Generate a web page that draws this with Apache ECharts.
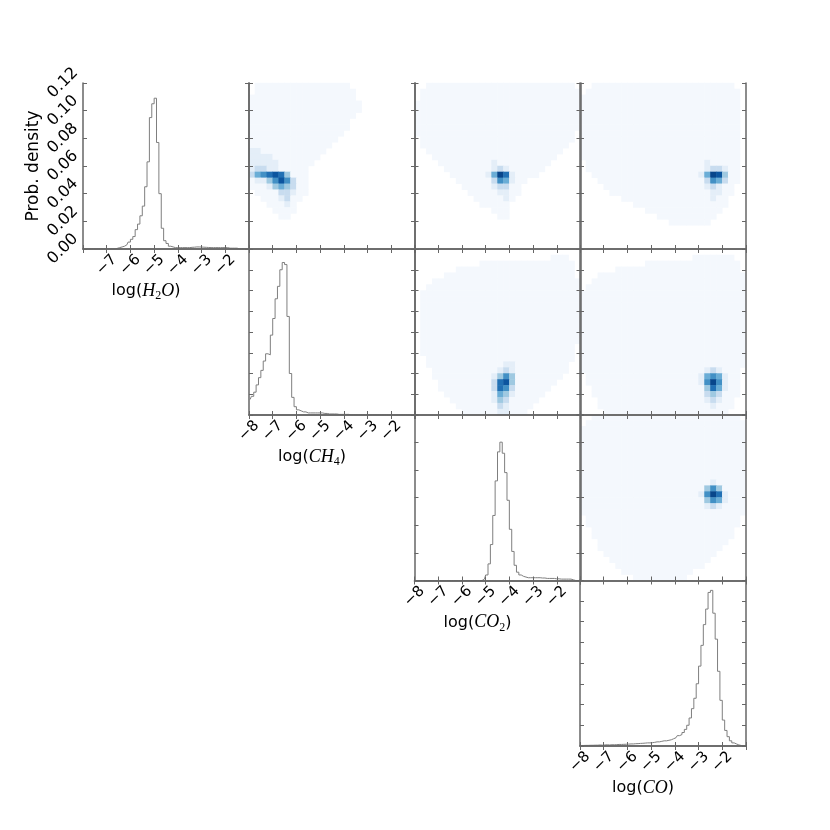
<!DOCTYPE html>
<html>
<head>
<meta charset="utf-8">
<script src="https://cdn.jsdelivr.net/npm/echarts@6/dist/echarts.min.js"></script>
<style>
  html, body { margin: 0; background: #fff; }
  #chart { width: 830px; height: 830px; }
</style>
</head>
<body>
<div id="chart"></div>
<script>
// axis variables (formula letters, subscript, rest)
const species = [['H', '2', 'O'], ['CH', '4', ''], ['CO', '2', ''], ['CO', '', '']];

// histogram bins: width 0.1 from -8 to -1, values are probability density
const histH2O = [
  0, 0, 0, 0, 0, 0, 0, 0, 0, 0, 0, 0, 0, 0,
  0.0005, 0.001, 0.0015, 0.002, 0.003, 0.005, 0.007, 0.009, 0.014, 0.018,
  0.024, 0.031, 0.045, 0.063, 0.095, 0.105, 0.109, 0.077, 0.040, 0.015,
  0.006, 0.004, 0.002, 0.0015, 0.001, 0.001, 0.001, 0.001, 0.001, 0.001,
  0.001, 0.0012, 0.0013, 0.0015, 0.0015, 0.0014, 0.0013, 0.0012, 0.0011, 0.001,
  0.001, 0.001, 0.001, 0.001, 0.001, 0.001, 0.001, 0.0006, 0.0006, 0.0006,
  0.0006, 0, 0, 0, 0, 0
];
const histCH4 = [
  0.015, 0.018, 0.022, 0.029, 0.036, 0.043, 0.052, 0.059, 0.058, 0.077,
  0.093, 0.112, 0.124, 0.140, 0.147, 0.145, 0.095, 0.040, 0.017, 0.008,
  0.005, 0.004, 0.003, 0.003, 0.002, 0.002, 0.002, 0.002, 0.002, 0.002,
  0.002, 0.0015, 0.0015, 0.001, 0.001, 0.001, 0.001, 0.0006, 0.0006, 0.0006,
  0.0006, 0.0006, 0, 0, 0, 0, 0, 0, 0, 0,
  0, 0, 0, 0, 0, 0, 0, 0, 0, 0,
  0, 0, 0, 0, 0, 0, 0, 0, 0, 0
];
const histCO2 = [
  0, 0, 0, 0, 0, 0, 0, 0, 0, 0,
  0, 0, 0, 0, 0, 0, 0, 0, 0, 0,
  0, 0, 0, 0, 0, 0, 0, 0, 0, 0.001,
  0.004, 0.012, 0.026, 0.047, 0.072, 0.093, 0.100, 0.092, 0.078, 0.058,
  0.037, 0.021, 0.011, 0.006, 0.004, 0.003, 0.0025, 0.002, 0.002, 0.002,
  0.002, 0.002, 0.002, 0.0018, 0.0018, 0.0015, 0.0015, 0.0015, 0.0015, 0.0012,
  0.0012, 0.001, 0.001, 0.001, 0.001, 0.001, 0.0005, 0, 0, 0
];
const histCO = [
  0.0005, 0.0005, 0.0006, 0.0006, 0.0007, 0.0007, 0.0008, 0.0008, 0.001, 0.0008,
  0.001, 0.0012, 0.001, 0.0012, 0.0012, 0.0013, 0.0015, 0.0015, 0.0016, 0.0017,
  0.0018, 0.002, 0.002, 0.0022, 0.0023, 0.0025, 0.0026, 0.0028, 0.003, 0.003,
  0.0032, 0.0035, 0.004, 0.004, 0.0045, 0.005, 0.005, 0.0055, 0.006, 0.007,
  0.008, 0.010, 0.011, 0.013, 0.016, 0.020, 0.027, 0.036, 0.046, 0.060,
  0.077, 0.097, 0.117, 0.132, 0.148, 0.150, 0.128, 0.103, 0.072, 0.044,
  0.025, 0.015, 0.009, 0.005, 0.003, 0.002, 0.001, 0.0005, 0.0002, 0
];
const hists = [histH2O, histCH4, histCO2, histCO];

// 2D density, 28x28 cells of 0.25 dex, rows from top (y=-1) to bottom (y=-8),
// digits are colour levels 0 (empty) .. 9 (densest); spaces only for reading
const densH2O_CH4 = [
  '0111 1111 1111 1111 1000 0000 0000',
  '0111 1111 1111 1111 1100 0000 0000',
  '1111 1111 1111 1111 1100 0000 0000',
  '1111 1111 1111 1111 1110 0000 0000',
  '1111 1111 1111 1111 1110 0000 0000',
  '1111 1111 1111 1111 1100 0000 0000',
  '1111 1111 1111 1111 1000 0000 0000',
  '1111 1111 1111 1111 1000 0000 0000',
  '1111 1111 1111 1111 0000 0000 0000',
  '1111 1111 1111 1110 0000 0000 0000',
  '1111 1111 1111 1100 0000 0000 0000',
  '2211 1111 1111 1000 0000 0000 0000',
  '2222 1111 1111 0000 0000 0000 0000',
  '2222 2111 1110 0000 0000 0000 0000',
  '2332 2111 1100 0000 0000 0000 0000',
  '3567 8741 1100 0000 0000 0000 0000',
  '1224 6863 1100 0000 0000 0000 0000',
  '1112 4543 1100 0000 0000 0000 0000',
  '0111 1332 1100 0000 0000 0000 0000',
  '0011 1231 1000 0000 0000 0000 0000',
  '0001 1121 0000 0000 0000 0000 0000',
  '0000 1111 0000 0000 0000 0000 0000',
  '0000 0110 0000 0000 0000 0000 0000',
  '0000 0000 0000 0000 0000 0000 0000',
  '0000 0000 0000 0000 0000 0000 0000',
  '0000 0000 0000 0000 0000 0000 0000',
  '0000 0000 0000 0000 0000 0000 0000',
  '0000 0000 0000 0000 0000 0000 0000'
];
const densH2O_CO2 = [
  '0011 1111 1111 1111 1111 1111 1110',
  '0111 1111 1111 1111 1111 1111 1111',
  '0111 1111 1111 1111 1111 1111 1111',
  '1111 1111 1111 1111 1111 1111 1111',
  '1111 1111 1111 1111 1111 1111 1111',
  '1111 1111 1111 1111 1111 1111 1111',
  '1111 1111 1111 1111 1111 1111 1111',
  '1111 1111 1111 1111 1111 1111 1111',
  '1111 1111 1111 1111 1111 1111 1110',
  '0111 1111 1111 1111 1111 1111 1110',
  '0111 1111 1111 1111 1111 1111 1100',
  '0011 1111 1111 1111 1111 1111 1000',
  '0001 1111 1111 1111 1111 1111 0000',
  '0000 1111 1111 1211 1111 1110 0000',
  '0000 0111 1111 1232 1111 1100 0000',
  '0000 0011 1111 2597 2111 1000 0000',
  '0000 0001 1111 1365 2110 0000 0000',
  '0000 0000 1111 1233 1100 0000 0000',
  '0000 0000 0111 1122 1100 0000 0000',
  '0000 0000 0011 1112 1000 0000 0000',
  '0000 0000 0001 1111 0000 0000 0000',
  '0000 0000 0000 0111 0000 0000 0000',
  '0000 0000 0000 0011 0000 0000 0000',
  '0000 0000 0000 0000 0000 0000 0000',
  '0000 0000 0000 0000 0000 0000 0000',
  '0000 0000 0000 0000 0000 0000 0000',
  '0000 0000 0000 0000 0000 0000 0000',
  '0000 0000 0000 0000 0000 0000 0000'
];
const densH2O_CO = [
  '0011 1111 1111 1111 1111 1111 1100',
  '0111 1111 1111 1111 1111 1111 1110',
  '1111 1111 1111 1111 1111 1111 1110',
  '1111 1111 1111 1111 1111 1111 1110',
  '1111 1111 1111 1111 1111 1111 1110',
  '1111 1111 1111 1111 1111 1111 1110',
  '1111 1111 1111 1111 1111 1111 1110',
  '1111 1111 1111 1111 1111 1111 1110',
  '1111 1111 1111 1111 1111 1111 1110',
  '1111 1111 1111 1111 1111 1111 1110',
  '1111 1111 1111 1111 1111 1111 1110',
  '1111 1111 1111 1111 1111 1111 1110',
  '1111 1111 1111 1111 1111 1111 1110',
  '0111 1111 1111 1111 1111 1211 1110',
  '0111 1111 1111 1111 1111 1233 2110',
  '0011 1111 1111 1111 1111 2598 4110',
  '0001 1111 1111 1111 1111 1365 3110',
  '0000 1111 1111 1111 1111 1232 1100',
  '0000 0111 1111 1111 1111 1122 1100',
  '0000 0001 1111 1111 1111 1121 1000',
  '0000 0000 0111 1111 1111 1111 1000',
  '0000 0000 0001 1111 1111 1111 0000',
  '0000 0000 0000 0111 1111 1110 0000',
  '0000 0000 0000 0001 1111 1100 0000',
  '0000 0000 0000 0000 0000 0000 0000',
  '0000 0000 0000 0000 0000 0000 0000',
  '0000 0000 0000 0000 0000 0000 0000',
  '0000 0000 0000 0000 0000 0000 0000'
];
const densCH4_CO2 = [
  '0000 0000 0000 0000 0000 0000 0000',
  '0000 0000 0000 0000 0000 0001 1100',
  '0000 0000 0001 1111 1111 1111 1110',
  '0000 0001 1111 1111 1111 1111 1110',
  '0000 0111 1111 1111 1111 1111 1110',
  '0001 1111 1111 1111 1111 1111 1111',
  '0011 1111 1111 1111 1111 1111 1111',
  '0111 1111 1111 1111 1111 1111 1111',
  '0111 1111 1111 1111 1111 1111 1111',
  '0111 1111 1111 1111 1111 1111 1111',
  '0111 1111 1111 1111 1111 1111 1111',
  '0111 1111 1111 1111 1111 1111 1111',
  '0111 1111 1111 1111 1111 1111 1111',
  '0111 1111 1111 1111 1111 1111 1111',
  '0111 1111 1111 1111 1111 1111 1111',
  '0111 1111 1111 1111 1111 1111 1111',
  '0111 1111 1111 1111 1111 1111 1110',
  '0111 1111 1111 1111 1111 1111 1110',
  '0011 1111 1111 1111 1111 1111 1110',
  '0011 1111 1111 1112 2111 1111 1100',
  '0001 1111 1111 1123 2111 1111 1100',
  '0001 1111 1111 1246 4111 1111 1000',
  '0000 1111 1111 1378 4111 1111 0000',
  '0000 1111 1111 1376 3111 1110 0000',
  '0000 0111 1111 1254 2111 1100 0000',
  '0000 0011 1111 1243 1111 1000 0000',
  '0000 0001 1111 1132 1111 0000 0000',
  '0000 0000 1111 1122 1110 0000 0000'
];
const densCH4_CO = [
  '0000 0000 0000 0000 0000 0000 0000',
  '0000 0000 0000 0000 0001 1111 1100',
  '0000 0000 0001 1111 1111 1111 1110',
  '0000 0011 1111 1111 1111 1111 1110',
  '0001 1111 1111 1111 1111 1111 1111',
  '0011 1111 1111 1111 1111 1111 1111',
  '0111 1111 1111 1111 1111 1111 1111',
  '1111 1111 1111 1111 1111 1111 1111',
  '1111 1111 1111 1111 1111 1111 1111',
  '1111 1111 1111 1111 1111 1111 1111',
  '1111 1111 1111 1111 1111 1111 1111',
  '1111 1111 1111 1111 1111 1111 1111',
  '1111 1111 1111 1111 1111 1111 1111',
  '1111 1111 1111 1111 1111 1111 1111',
  '1111 1111 1111 1111 1111 1111 1111',
  '1111 1111 1111 1111 1111 1111 1111',
  '1111 1111 1111 1111 1111 1111 1111',
  '1111 1111 1111 1111 1111 1111 1111',
  '1111 1111 1111 1111 1111 1111 1111',
  '1111 1111 1111 1111 1111 1111 1111',
  '1111 1111 1111 1111 1111 1232 1110',
  '0111 1111 1111 1111 1111 2565 2110',
  '0111 1111 1111 1111 1111 2696 2110',
  '0011 1111 1111 1111 1111 1475 2110',
  '0011 1111 1111 1111 1111 1343 1110',
  '0001 1111 1111 1111 1111 1232 1100',
  '0001 1111 1111 1111 1111 1121 1100',
  '0000 1111 1111 1111 1111 1111 1000'
];
const densCO2_CO = [
  '0011 1111 1111 1111 1111 1111 1110',
  '0111 1111 1111 1111 1111 1111 1111',
  '1111 1111 1111 1111 1111 1111 1111',
  '1111 1111 1111 1111 1111 1111 1111',
  '1111 1111 1111 1111 1111 1111 1111',
  '1111 1111 1111 1111 1111 1111 1111',
  '1111 1111 1111 1111 1111 1111 1111',
  '1111 1111 1111 1111 1111 1111 1111',
  '1111 1111 1111 1111 1111 1111 1111',
  '1111 1111 1111 1111 1111 1111 1111',
  '1111 1111 1111 1111 1111 1111 1111',
  '1111 1111 1111 1111 1111 1121 1111',
  '1111 1111 1111 1111 1111 1464 1111',
  '1111 1111 1111 1111 1111 2697 2111',
  '1111 1111 1111 1111 1111 1465 2111',
  '1111 1111 1111 1111 1111 1232 1111',
  '1111 1111 1111 1111 1111 1111 1111',
  '0111 1111 1111 1111 1111 1111 1110',
  '0111 1111 1111 1111 1111 1111 1110',
  '0011 1111 1111 1111 1111 1111 1100',
  '0011 1111 1111 1111 1111 1111 1100',
  '0001 1111 1111 1111 1111 1111 1000',
  '0001 1111 1111 1111 1111 1111 0000',
  '0000 1111 1111 1111 1111 1110 0000',
  '0000 0111 1111 1111 1111 1100 0000',
  '0000 0011 1111 1111 1111 1000 0000',
  '0000 0001 1111 1111 1110 0000 0000',
  '0000 0000 0111 1111 1100 0000 0000'
];
// [row, col, cells]
const densPanels = [
  [0, 1, densH2O_CH4], [0, 2, densH2O_CO2], [0, 3, densH2O_CO],
  [1, 2, densCH4_CO2], [1, 3, densCH4_CO], [2, 3, densCO2_CO]
];

const xTickLabelsFirst = ['', '−7', '−6', '−5', '−4', '−3', '−2', ''];
const xTickLabels = ['−8', '−7', '−6', '−5', '−4', '−3', '−2', ''];
const yTickLabels = ['0.00', '0.02', '0.04', '0.06', '0.08', '0.10', '0.12'];
const rowMax = [0.12, 0.16, 0.12, 0.16];

const blues = ['#f4f8fd', '#e4eef8', '#c8dcef', '#9fc9e1', '#6aadd6', '#4290c5', '#2170b4', '#0c559f', '#08468b'];

const chart = echarts.init(document.getElementById('chart'));

const edges = [83, 249, 414.5, 580];
const size = 166;
const frameColor = '#666';
const font = 'DejaVu Sans';

const grid = [], xAxis = [], yAxis = [], series = [];
const heatSeriesIdx = [];

function nameRich(sp) {
  return '{s|log(}{m|' + sp[0] + '}' + (sp[1] ? '{b|' + sp[1] + '}' : '') +
    (sp[2] ? '{m|' + sp[2] + '}' : '') + '{s|)}';
}

// frame + ticks of one panel, on all four sides
function addFrame(row, col, isDiag) {
  const g = grid.length;
  grid.push({ left: edges[col], top: edges[row], width: size, height: size, outerBoundsMode: 'none' });
  const line = { show: true, lineStyle: { color: frameColor, width: 1.5 } };
  const tick = { show: true, inside: true, length: 4, lineStyle: { color: frameColor } };
  const labels = col === 0 ? xTickLabelsFirst : xTickLabels;
  const sp = species[col];
  xAxis.push({
    gridIndex: g, type: 'value', position: 'bottom', min: -8, max: -1, interval: 1, z: 10,
    axisLine: line, axisTick: tick, splitLine: { show: false },
    axisLabel: {
      show: isDiag, rotate: 45, margin: 16, align: 'center', verticalAlign: 'middle',
      fontFamily: font, fontSize: 15, color: '#000',
      showMinLabel: true, showMaxLabel: true,
      formatter: v => labels[Math.round(v) + 8]
    },
    name: isDiag ? nameRich(sp) : '', nameLocation: 'middle', nameGap: 31,
    nameTextStyle: {
      padding: [0, 40, 0, 0],
      rich: {
        s: { fontFamily: font, fontSize: 16, color: '#000', lineHeight: 22, verticalAlign: 'middle' },
        m: { fontFamily: 'Liberation Serif', fontStyle: 'italic', fontSize: 18, color: '#000', lineHeight: 22, verticalAlign: 'middle' },
        b: { fontFamily: 'Liberation Serif', fontSize: 12, color: '#000', lineHeight: 12, verticalAlign: 'bottom' }
      }
    }
  });
  xAxis.push({
    gridIndex: g, type: 'value', position: 'top', min: -8, max: -1, interval: 1, z: 10,
    axisLine: line, axisTick: tick, splitLine: { show: false }, axisLabel: { show: false }
  });
  const showY = row === 0 && col === 0;
  yAxis.push({
    gridIndex: g, type: 'value', position: 'left', min: 0, max: rowMax[row], interval: 0.02, z: 10,
    axisLine: line, axisTick: tick, splitLine: { show: false },
    axisLabel: {
      show: showY, rotate: 45, margin: 20, align: 'center', verticalAlign: 'middle',
      fontFamily: font, fontSize: 16, color: '#000',
      showMinLabel: true, showMaxLabel: true,
      formatter: v => yTickLabels[Math.round(v / 0.02)]
    },
    name: showY ? 'Prob. density' : '', nameLocation: 'middle', nameGap: 39, nameRotate: 90,
    nameTextStyle: { fontFamily: font, fontSize: 17, color: '#000' }
  });
  yAxis.push({
    gridIndex: g, type: 'value', position: 'right', min: 0, max: rowMax[row], interval: 0.02, z: 10,
    axisLine: line, axisTick: tick, splitLine: { show: false }, axisLabel: { show: false }
  });
  return { g, xi: xAxis.length - 2, yi: yAxis.length - 2 };
}

const binCenters = histH2O.map((_, i) => -7.95 + 0.1 * i);

// diagonal histograms
for (let k = 0; k < 4; k++) {
  const f = addFrame(k, k, true);
  series.push({
    type: 'line', step: 'middle', xAxisIndex: f.xi, yAxisIndex: f.yi,
    data: hists[k].map((v, i) => [binCenters[i], v]),
    showSymbol: false, symbol: 'none', clip: true,
    lineStyle: { color: '#7f7f7f', width: 1 }, z: 3
  });
}

// upper-triangle 2D densities
const cellIdx = Array.from({ length: 28 }, (_, i) => i);
densPanels.forEach(([row, col, cells]) => {
  addFrame(row, col, false);
  const g = grid.length;
  grid.push({ left: edges[col], top: edges[row], width: size, height: size, outerBoundsMode: 'none' });
  xAxis.push({ gridIndex: g, type: 'category', data: cellIdx, show: false });
  yAxis.push({ gridIndex: g, type: 'category', data: cellIdx, show: false });
  const data = [];
  cells.forEach((rowStr, r) => {
    rowStr.replace(/ /g, '').split('').forEach((ch, c) => {
      const v = +ch;
      if (v > 0) data.push([c, 27 - r, v]);
    });
  });
  heatSeriesIdx.push(series.length);
  series.push({
    type: 'heatmap', xAxisIndex: xAxis.length - 1, yAxisIndex: yAxis.length - 1,
    data, itemStyle: { borderWidth: 0 }, emphasis: { disabled: true }, z: 2
  });
});

chart.setOption({
  animation: false,
  backgroundColor: '#fff',
  grid, xAxis, yAxis, series,
  visualMap: {
    type: 'piecewise', show: false, seriesIndex: heatSeriesIdx, dimension: 2,
    pieces: blues.map((c, i) => ({ value: i + 1, color: c }))
  }
});
</script>
</body>
</html>
